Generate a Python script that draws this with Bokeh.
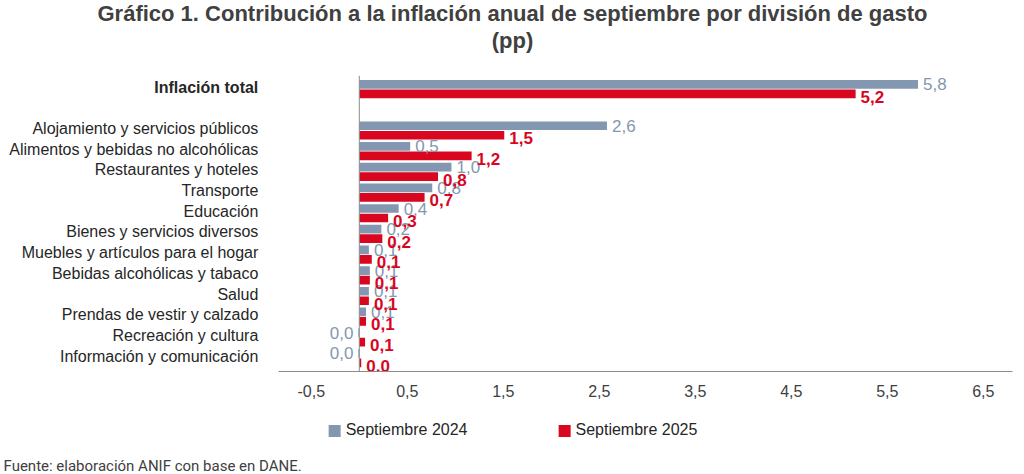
from bokeh.plotting import figure
from bokeh.layouts import column
from bokeh.models import (Range1d, ColumnDataSource, Legend, LegendItem,
                          FixedTicker, Span, Title)
from bokeh.core.properties import value
from bokeh.embed import file_html
from bokeh.resources import INLINE

# ---------------- data ----------------
categories = [
    "Inflación total",
    "Alojamiento y servicios públicos",
    "Alimentos y bebidas no alcohólicas",
    "Restaurantes y hoteles",
    "Transporte",
    "Educación",
    "Bienes y servicios diversos",
    "Muebles y artículos para el hogar",
    "Bebidas alcohólicas y tabaco",
    "Salud",
    "Prendas de vestir y calzado",
    "Recreación y cultura",
    "Información y comunicación",
]
sep_2024 = [5.82, 2.58, 0.53, 0.96, 0.76, 0.41, 0.23, 0.10, 0.11, 0.10, 0.07, -0.01, -0.01]
sep_2025 = [5.17, 1.51, 1.17, 0.82, 0.68, 0.30, 0.24, 0.13, 0.11, 0.10, 0.07, 0.06, 0.02]
series_names = ["Septiembre 2024", "Septiembre 2025"]
x_ticks = [-0.5, 0.5, 1.5, 2.5, 3.5, 4.5, 5.5, 6.5]

title_line1 = "Gráfico 1. Contribución a la inflación anual de septiembre por división de gasto"
title_line2 = "(pp)"
source_note = "Fuente: elaboración ANIF con base en DANE."

# ---------------- styling ----------------
GRAY = "#8497B0"
RED = "#D9061F"
TXT = "#404040"
LBL = "#262626"
AX = "#8C8C8C"
FONT = "Liberation Sans"

def fmt(v):
    return f"{round(v, 1) + 0.0:.1f}".replace(".", ",")

# row positions: total on top, one empty row, then the 12 divisions
pos = [0 if i == 0 else i + 1 for i in range(len(categories))]
off = 0.23
y24 = [p - off for p in pos]
y25 = [p + off for p in pos]

src = ColumnDataSource(dict(
    cat=categories, pos=pos, y24=y24, y25=y25, v24=sep_2024, v25=sep_2025,
    t24=[fmt(v) for v in sep_2024], t25=[fmt(v) for v in sep_2025],
    a24=["left" if v >= 0 else "right" for v in sep_2024],
    o24=[5 if v >= 0 else -5 for v in sep_2024],
    a25=["left" if v >= 0 else "right" for v in sep_2025],
    o25=[5 if v >= 0 else -5 for v in sep_2025],
    zero=[0] * len(categories),
    style=["bold" if i == 0 else "normal" for i in range(len(categories))],
))

PX = 96.0          # pixels per unit on the value axis
X0 = 358.8         # screen position of the value 0
W = 1024
p = figure(width=W, height=403, output_backend="svg", toolbar_location=None,
           x_range=Range1d(-X0 / PX, (W - X0) / PX), y_range=Range1d(13.65, -0.66),
           min_border_left=0, min_border_right=0, min_border_top=75,
           min_border_bottom=32)
p.title = None
p.outline_line_color = None
p.grid.visible = False
p.yaxis.visible = False

# title: spacer + two centred lines (first added is closest to the frame)
p.add_layout(Title(text=" ", align="center", standoff=8, text_font=FONT,
                   text_font_size="10px", text_color="white"), "above")
p.add_layout(Title(text=title_line2, align="center", vertical_align="top", standoff=0,
                   text_font=FONT, text_font_size="22px", text_font_style="bold",
                   text_color=TXT, text_line_height=1.0), "above")
p.add_layout(Title(text=title_line1, align="center", vertical_align="top", standoff=0,
                   text_font=FONT, text_font_size="22px", text_font_style="bold",
                   text_color=TXT, text_line_height=1.0), "above")

r24 = p.hbar(y="y24", left=0, right="v24", height=0.42, source=src,
             fill_color=GRAY, line_color=None)
r25 = p.hbar(y="y25", left=0, right="v25", height=0.42, source=src,
             fill_color=RED, line_color=None)

p.add_layout(Span(location=0, dimension="height", line_color=AX, line_width=1))

# category labels (right aligned, left of the value axis)
p.text(x="zero", y="pos", text="cat", source=src, x_offset=-101, y_offset=-2,
       text_align="right", text_baseline="middle", text_font=value(FONT),
       text_font_size="16px", text_font_style="style", text_color=LBL)

# value labels
p.text(x="v24", y="y24", text="t24", source=src, x_offset="o24", text_align="a24",
       text_baseline="middle", text_font=value(FONT), text_font_size="17px",
       text_color=GRAY)
p.text(x="v25", y="y25", text="t25", source=src, x_offset="o25", y_offset=3,
       text_align="a25", text_baseline="middle", text_font=value(FONT),
       text_font_size="17px", text_font_style="bold", text_color=RED)

# x axis
xa = p.xaxis[0]
xa.bounds = (-0.84, 6.80)
xa.ticker = FixedTicker(ticks=x_ticks)
xa.major_label_overrides = {t: fmt(t) for t in x_ticks}
xa.axis_line_color = AX
xa.major_tick_line_color = None
xa.minor_tick_line_color = None
xa.major_tick_out = 0
xa.major_tick_in = 0
xa.major_label_standoff = 13
xa.major_label_text_font = FONT
xa.major_label_text_font_size = "16px"
xa.major_label_text_color = TXT

# ---------------- legend + source strip ----------------
leg = figure(width=W, height=71, output_backend="svg", toolbar_location=None,
             x_range=Range1d(0, 1), y_range=Range1d(0, 1),
             min_border_left=0, min_border_right=0, min_border_top=0,
             min_border_bottom=0)
leg.title = None
leg.outline_line_color = None
leg.grid.visible = False
leg.axis.visible = False

# legend keys (zero-length proxies, nothing is drawn in the strip)
key_src = ColumnDataSource(dict(y=[0], right=[0]))
k24 = leg.hbar(y="y", right="right", left=0, height=0.5, source=key_src,
               fill_color=GRAY, line_color=None)
k25 = leg.hbar(y="y", right="right", left=0, height=0.5, source=key_src,
               fill_color=RED, line_color=None)

legend = Legend(items=[LegendItem(label=series_names[0], renderers=[k24]),
                       LegendItem(label=series_names[1], renderers=[k25])],
                orientation="horizontal", location="top_center", glyph_width=15,
                glyph_height=15, label_standoff=4, spacing=89, padding=0, margin=18,
                border_line_color=None, background_fill_alpha=0,
                label_text_font=FONT, label_text_font_size="16px",
                label_text_color=LBL)
leg.add_layout(legend)

leg.add_layout(Title(text=source_note, align="left", offset=3, standoff=0,
                     text_font="Roboto", text_font_size="15px",
                     text_font_style="normal", text_color=TXT), "below")

page = column(p, leg, spacing=0)
open("out.html", "w").write(file_html(page, INLINE))
